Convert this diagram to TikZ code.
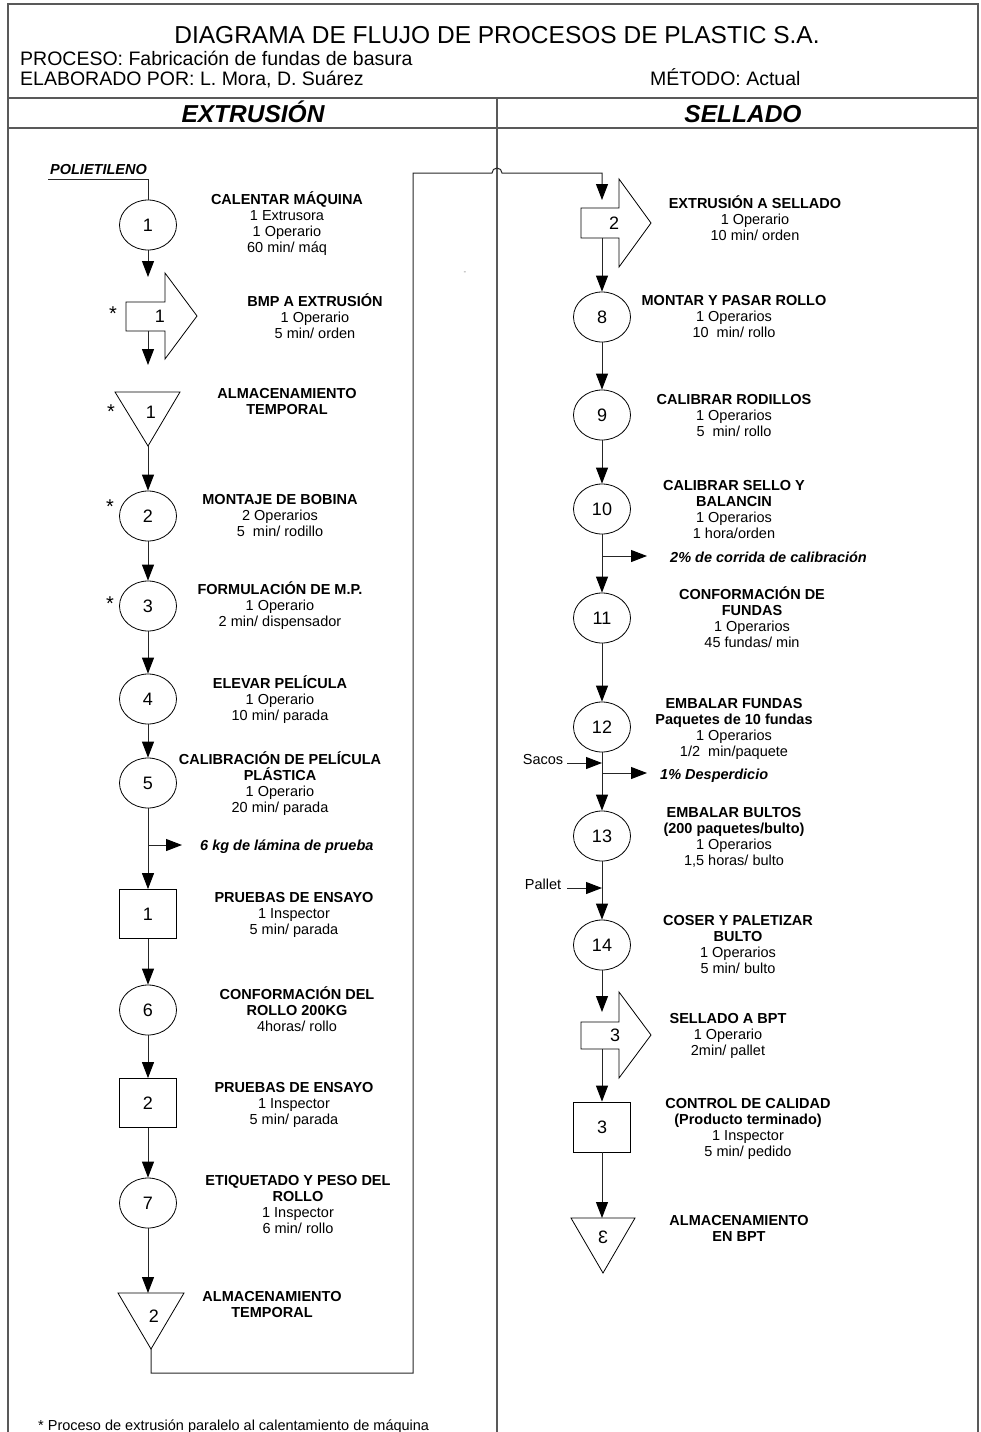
\documentclass[tikz,border=0pt]{standalone}
\usepackage{fontspec}
\setmainfont{Liberation Sans}
\usetikzlibrary{arrows.meta,shapes.geometric}
\newcommand{\mystrut}{\rule{0pt}{14pt}}
\begin{document}
\begin{tikzpicture}[x=1pt,y=-1pt,
  lbl/.style={anchor=north, align=center, inner sep=0pt, font=\fontsize{14.5}{16}\selectfont},
  note/.style={inner sep=0pt, font=\fontsize{14.5}{16}\selectfont},
  bnote/.style={inner sep=0pt, font=\bfseries\itshape\fontsize{14.5}{16}\selectfont},
  hdr/.style={inner sep=0pt, font=\fontsize{19.5}{22}\selectfont},
  num/.style={inner sep=0pt, font=\fontsize{18}{18}\selectfont},
  star/.style={inner sep=0pt, font=\fontsize{20}{20}\selectfont},
  op/.style={ellipse, draw, line width=0.8pt, minimum width=57pt, minimum height=50pt, inner sep=0pt, font=\fontsize{18}{18}\selectfont},
  insp/.style={rectangle, draw, line width=0.8pt, minimum width=57pt, minimum height=49pt, inner sep=0pt, font=\fontsize{18}{18}\selectfont},
  conn/.style={line width=1pt, draw=black!85},
  arr/.style={conn, -{Triangle[length=16pt,width=12pt,color=black]}},
  shp/.style={draw, line width=0.8pt},
  frame/.style={line width=1.6pt, draw=black!65},
]
\useasboundingbox (0,0) rectangle (980,1432);

% ---------- frame and header ----------
\draw[frame] (8,4) rectangle (978,1445);
\draw[frame] (8,98) -- (978,98);
\draw[frame] (8,128) -- (978,128);
\draw[frame] (497,98) -- (497,1445);

\node[font=\fontsize{24.5}{28}\selectfont, inner sep=0pt] (title) at (497,35.5) {DIAGRAMA DE FLUJO DE PROCESOS DE PLASTIC S.A.};
\node[hdr, anchor=base west] (proc) at (20,65) {PROCESO: Fabricación de fundas de basura};
\node[hdr, anchor=base west] (elab) at (20,85) {ELABORADO POR: L. Mora, D. Suárez};
\node[hdr, anchor=base west] (met) at (650,85) {MÉTODO: Actual};
\node[font=\bfseries\itshape\fontsize{24.5}{28}\selectfont, inner sep=0pt, anchor=base] (hx) at (253,122) {EXTRUSIÓN};
\node[font=\bfseries\itshape\fontsize{24.5}{28}\selectfont, inner sep=0pt, anchor=base] (hs) at (743,122) {SELLADO};

% ---------- left column ----------
\node[bnote, anchor=base] (poli) at (98.5,174.2) {POLIETILENO};
\coordinate (p0) at (48,179);
\coordinate (p1) at (148,179);

\node[op] (c1) at (148,225) {1};
\draw[conn] (p0) -- (p1) -- (c1);
\node[lbl] (l1) at (287,190.2) {\mystrut\textbf{CALENTAR MÁQUINA}\\1 Extrusora\\1 Operario\\60 min/ máq};

% transport 1
\draw[shp] (126,302) -- (165,302) -- (165,273) -- (197,316) -- (165,359) -- (165,331) -- (126,331) -- cycle;
\node[num] (s1) at (160,316) {1};
\node[star] (ast1) at (113,314) {*};
\coordinate (a1) at (148,277);
\draw[arr] (c1) -- (a1);
\coordinate (s1b) at (148,331);
\coordinate (a2) at (148,365);
\draw[arr] (s1b) -- (a2);
\node[lbl] (l2) at (315,292.2) {\mystrut\textbf{BMP A EXTRUSIÓN}\\1 Operario\\5 min/ orden};

% storage 1
\draw[shp] (115,392) -- (180,392) -- (148,446) -- cycle;
\node[num] (t1) at (151,412) {1};
\node[star] (ast2) at (111,412) {*};
\coordinate (t1tip) at (148,446);
\node[lbl, font=\bfseries\fontsize{14.5}{16}\selectfont] (l3) at (287,384.2) {\mystrut ALMACENAMIENTO\\TEMPORAL};

\node[op] (c2) at (148,516) {2};
\node[star] (ast3) at (110,507) {*};
\draw[arr] (t1tip) -- (c2);
\node[lbl] (l4) at (280,490.2) {\mystrut\textbf{MONTAJE DE BOBINA}\\2 Operarios\\5\ \ min/ rodillo};

\node[op] (c3) at (148,606) {3};
\node[star] (ast4) at (110,604) {*};
\draw[arr] (c2) -- (c3);
\node[lbl] (l5) at (280,580.2) {\mystrut\textbf{FORMULACIÓN DE M.P.}\\1 Operario\\2 min/ dispensador};

\node[op] (c4) at (148,699) {4};
\draw[arr] (c3) -- (c4);
\node[lbl] (l6) at (280,674.2) {\mystrut\textbf{ELEVAR PELÍCULA}\\1 Operario\\10 min/ parada};

\node[op] (c5) at (148,783) {5};
\draw[arr] (c4) -- (c5);
\node[lbl] (l7) at (280,750.2) {\mystrut\textbf{CALIBRACIÓN DE PELÍCULA}\\\textbf{PLÁSTICA}\\1 Operario\\20 min/ parada};

\node[insp] (q1) at (148,914) {1};
\draw[arr] (c5) -- (q1);
\coordinate (b1) at (148,845);
\coordinate (b1e) at (182,845);
\draw[arr] (b1) -- (b1e);
\node[bnote, anchor=base west] (w1) at (200,850) {6 kg de lámina de prueba};
\node[lbl] (l8) at (294,888.2) {\mystrut\textbf{PRUEBAS DE ENSAYO}\\1 Inspector\\5 min/ parada};

\node[op] (c6) at (148,1010) {6};
\draw[arr] (q1) -- (c6);
\node[lbl] (l9) at (297,985.2) {\mystrut\textbf{CONFORMACIÓN DEL}\\\textbf{ROLLO 200KG}\\4horas/ rollo};

\node[insp] (q2) at (148,1103) {2};
\draw[arr] (c6) -- (q2);
\node[lbl] (l10) at (294,1078.2) {\mystrut\textbf{PRUEBAS DE ENSAYO}\\1 Inspector\\5 min/ parada};

\node[op] (c7) at (148,1203) {7};
\draw[arr] (q2) -- (c7);
\node[lbl] (l11) at (298,1171.2) {\mystrut\textbf{ETIQUETADO Y PESO DEL}\\\textbf{ROLLO}\\1 Inspector\\6 min/ rollo};

% storage 2
\draw[shp] (118,1293) -- (184,1293) -- (151,1349) -- cycle;
\node[num] (t2) at (154,1316) {2};
\coordinate (t2top) at (148,1293);
\coordinate (t2tip) at (151,1349);
\draw[arr] (c7) -- (t2top);
\node[lbl, font=\bfseries\fontsize{14.5}{16}\selectfont] (l12) at (272,1287.2) {\mystrut ALMACENAMIENTO\\TEMPORAL};

\node[note, anchor=base west] (foot) at (38,1430) {* Proceso de extrusión paralelo al calentamiento de máquina};

\node[inner sep=0pt, font=\fontsize{8}{8}\selectfont, text=black!50] (dash) at (465,273) {-};

% ---------- loop connector ----------
\coordinate (k1) at (151,1373);
\coordinate (k2) at (413,1373);
\coordinate (k3) at (413,173);
\coordinate (hopL) at (492,173);
\coordinate (k4) at (602,173);
\coordinate (s2in) at (602,200);
\draw[arr] (t2tip) -- (k1) -- (k2) -- (k3) -- (hopL) arc[start angle=180, end angle=0, radius=5pt] -- (k4) -- (s2in);

% ---------- right column ----------
\draw[shp] (581,208) -- (619,208) -- (619,179) -- (651,223) -- (619,267) -- (619,238) -- (581,238) -- cycle;
\node[num] (s2) at (614,223) {2};
\coordinate (s2out) at (602,238);
\node[lbl] (r1) at (755,194.2) {\mystrut\textbf{EXTRUSIÓN A SELLADO}\\1 Operario\\10 min/ orden};

\node[op] (c8) at (602,317) {8};
\draw[arr] (s2out) -- (c8);
\node[lbl] (r2) at (734,291.2) {\mystrut\textbf{MONTAR Y PASAR ROLLO}\\1 Operarios\\10\ \ min/ rollo};

\node[op] (c9) at (602,415) {9};
\draw[arr] (c8) -- (c9);
\node[lbl] (r3) at (734,390.2) {\mystrut\textbf{CALIBRAR RODILLOS}\\1 Operarios\\5\ \ min/ rollo};

\node[op] (c10) at (602,509) {10};
\draw[arr] (c9) -- (c10);
\node[lbl] (r4) at (734,476.2) {\mystrut\textbf{CALIBRAR SELLO Y}\\\textbf{BALANCIN}\\1 Operarios\\1 hora/orden};

\node[op] (c11) at (602,618) {11};
\draw[arr] (c10) -- (c11);
\coordinate (b2) at (602,556);
\coordinate (b2e) at (647,556);
\draw[arr] (b2) -- (b2e);
\node[bnote, anchor=base west] (w2) at (670,562) {2\% de corrida de calibración};
\node[lbl] (r5) at (752,585.2) {\mystrut\textbf{CONFORMACIÓN DE}\\\textbf{FUNDAS}\\1 Operarios\\45 fundas/ min};

\node[op] (c12) at (602,727) {12};
\draw[arr] (c11) -- (c12);
\node[lbl] (r6) at (734,694.2) {\mystrut\textbf{EMBALAR FUNDAS}\\\textbf{Paquetes de 10 fundas}\\1 Operarios\\1/2\ \ min/paquete};

\node[op] (c13) at (602,836) {13};
\draw[arr] (c12) -- (c13);
\node[note, anchor=base] (sacos) at (543,764) {Sacos};
\coordinate (sa0) at (567,763);
\coordinate (sa1) at (602,763);
\draw[arr] (sa0) -- (sa1);
\coordinate (b3) at (602,773);
\coordinate (b3e) at (647,773);
\draw[arr] (b3) -- (b3e);
\node[bnote, anchor=base west] (w3) at (660,779) {1\% Desperdicio};
\node[lbl] (r7) at (734,803.2) {\mystrut\textbf{EMBALAR BULTOS}\\\textbf{(200 paquetes/bulto)}\\1 Operarios\\1,5 horas/ bulto};

\node[op] (c14) at (602,945) {14};
\draw[arr] (c13) -- (c14);
\node[note, anchor=base] (pallet) at (543,889) {Pallet};
\coordinate (pa0) at (567,888);
\coordinate (pa1) at (602,888);
\draw[arr] (pa0) -- (pa1);
\node[lbl] (r8) at (738,911.2) {\mystrut\textbf{COSER Y PALETIZAR}\\\textbf{BULTO}\\1 Operarios\\5 min/ bulto};

% transport 3
\draw[shp] (581,1022) -- (619,1022) -- (619,992) -- (651,1035) -- (619,1078) -- (619,1049) -- (581,1049) -- cycle;
\node[num] (s3) at (615,1035) {3};
\coordinate (s3in) at (602,1012);
\coordinate (s3out) at (602,1049);
\draw[arr] (c14) -- (s3in);
\node[lbl] (r9) at (728,1009.2) {\mystrut\textbf{SELLADO A BPT}\\1 Operario\\2min/ pallet};

\node[insp, minimum height=50pt] (q3) at (602,1127) {3};
\draw[arr] (s3out) -- (q3);
\node[lbl] (r10) at (748,1094.2) {\mystrut\textbf{CONTROL DE CALIDAD}\\\textbf{(Producto terminado)}\\1 Inspector\\5 min/ pedido};

% storage 3
\draw[shp] (571,1218) -- (635,1218) -- (603,1273) -- cycle;
\node[num] (t3) at (603,1237) {\scalebox{-1}[1]{3}};
\coordinate (t3top) at (602,1218);
\draw[arr] (q3) -- (t3top);
\node[lbl, font=\bfseries\fontsize{14.5}{16}\selectfont] (r11) at (739,1211.2) {\mystrut ALMACENAMIENTO\\EN BPT};

\end{tikzpicture}
\end{document}
